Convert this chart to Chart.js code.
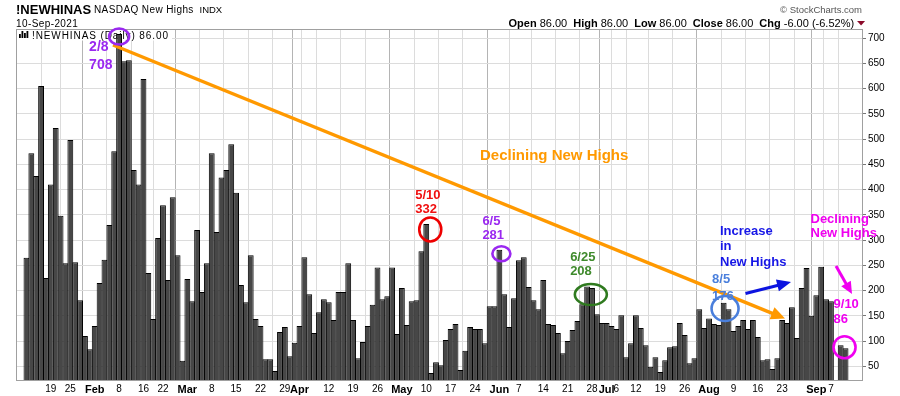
<!DOCTYPE html>
<html>
<head>
<meta charset="utf-8">
<title>!NEWHINAS NASDAQ New Highs</title>
<script src="https://cdn.jsdelivr.net/npm/chart.js@4.4.1/dist/chart.umd.min.js"></script>
<style>
  html, body { margin: 0; padding: 0; background: #fff; }
  canvas { display: block; }
</style>
</head>
<body>
<canvas id="chart" width="900" height="396"></canvas>
<script>
// ---------------------------------------------------------------------------
// Data — trading days per month (2021) and daily NASDAQ new highs
// ---------------------------------------------------------------------------
const janDays = [11, 12, 13, 14, 15, 19, 20, 21, 22, 25, 26, 27, 28, 29];
const febDays = [1, 2, 3, 4, 5, 8, 9, 10, 11, 12, 16, 17, 18, 19, 22, 23, 24, 25, 26];
const marDays = [1, 2, 3, 4, 5, 8, 9, 10, 11, 12, 15, 16, 17, 18, 19, 22, 23, 24, 25, 26, 29, 30, 31];
const aprDays = [1, 5, 6, 7, 8, 9, 12, 13, 14, 15, 16, 19, 20, 21, 22, 23, 26, 27, 28, 29, 30];
const mayDays = [3, 4, 5, 6, 7, 10, 11, 12, 13, 14, 17, 18, 19, 20, 21, 24, 25, 26, 27, 28];
const junDays = [1, 2, 3, 4, 7, 8, 9, 10, 11, 14, 15, 16, 17, 18, 21, 22, 23, 24, 25, 28, 29, 30];
const julDays = [1, 2, 6, 7, 8, 9, 12, 13, 14, 15, 16, 19, 20, 21, 22, 23, 26, 27, 28, 29, 30];
const augDays = [2, 3, 4, 5, 6, 9, 10, 11, 12, 13, 16, 17, 18, 19, 20, 23, 24, 25, 26, 27, 30, 31];
const sepDays = [1, 2, 3, 7, 8, 9, 10];

const janHighs = [265, 472, 427, 605, 225, 410, 522, 348, 254, 498, 256, 181, 110, 84];
const febHighs = [130, 215, 261, 330, 476, 708, 654, 656, 439, 410, 619, 235, 144, 304, 369, 221, 385, 270, 61];
const marHighs = [223, 179, 320, 197, 254, 472, 316, 424, 439, 490, 394, 211, 177, 270, 144, 130, 64, 64, 41, 118, 128, 70, 97];
const aprHighs = [130, 266, 193, 116, 157, 183, 177, 142, 197, 197, 254, 142, 66, 98, 130, 172, 246, 183, 189, 246, 114];
const mayHighs = [205, 132, 179, 181, 278, 332, 37, 58, 52, 102, 124, 134, 43, 81, 128, 124, 124, 96, 169, 169];
const junHighs = [281, 193, 128, 185, 260, 266, 207, 181, 163, 221, 134, 132, 116, 76, 100, 122, 140, 173, 208, 205, 153, 136];
const julHighs = [136, 130, 124, 151, 68, 96, 151, 126, 92, 49, 68, 39, 62, 88, 90, 136, 112, 56, 66, 163, 126];
const augHighs = [145, 134, 132, 176, 163, 120, 130, 142, 124, 142, 108, 62, 64, 45, 66, 142, 136, 167, 106, 205, 245, 150];
const sepHighs = [191, 247, 183, 179, null, 92, 86];   // Sep 8 not drawn in the source

// x-axis ticks (weekly grid + month starts) and their labels
const tickDates = ['Jan 19', 'Jan 25', 'Feb 1', 'Feb 8', 'Feb 16', 'Feb 22', 'Mar 1', 'Mar 8', 'Mar 15',
  'Mar 22', 'Mar 29', 'Apr 1', 'Apr 5', 'Apr 12', 'Apr 19', 'Apr 26', 'May 3', 'May 10', 'May 17',
  'May 24', 'Jun 1', 'Jun 7', 'Jun 14', 'Jun 21', 'Jun 28', 'Jul 1', 'Jul 6', 'Jul 12', 'Jul 19',
  'Jul 26', 'Aug 2', 'Aug 9', 'Aug 16', 'Aug 23', 'Aug 30', 'Sep 1', 'Sep 7'];
const tickText = ['19', '25', 'Feb', '8', '16', '22', 'Mar', '8', '15',
  '22', '29', 'Apr', '', '12', '19', '26', 'May', '10', '17',
  '24', 'Jun', '7', '14', '21', '28', 'Jul', '6', '12', '19',
  '26', 'Aug', '9', '16', '23', '', 'Sep', '7'];
const yTicks = [50, 100, 150, 200, 250, 300, 350, 400, 450, 500, 550, 600, 650, 700];

// ---------------------------------------------------------------------------
// Build the series
// ---------------------------------------------------------------------------
const monthDays = [['Jan', janDays], ['Feb', febDays], ['Mar', marDays], ['Apr', aprDays], ['May', mayDays],
  ['Jun', junDays], ['Jul', julDays], ['Aug', augDays], ['Sep', sepDays]];
const dates = monthDays.flatMap(([m, days]) => days.map(d => `${m} ${d}`));
const newHighs = [].concat(janHighs, febHighs, marHighs, aprHighs, mayHighs, junHighs, julHighs, augHighs, sepHighs);
const points = newHighs.map((v, i) => ({ x: i + 1, y: v }));
const dayIndex = label => dates.indexOf(label) + 1;

const FONT = "'Liberation Sans', Arial, Helvetica, sans-serif";
Chart.defaults.font.family = FONT;
Chart.defaults.color = '#000';

// Callouts anchored on a bar: ring offset/radii and text offset are in pixels
const callouts = [
  { date: 'Feb 8',  value: 708, lines: ['2/8', '708'],  color: '#9a28f0', ringColor: '#9a28f0', ring: [0, 2.5, 10, 8],   text: [-30, 17, 17.5], size: 14 },
  { date: 'May 10', value: 332, lines: ['5/10', '332'], color: '#f01010', ringColor: '#ee0000', ring: [4, 5.5, 11, 12], text: [-11, -25, 14.3], size: 13 },
  { date: 'Jun 1',  value: 281, lines: ['6/5', '281'],  color: '#9a28f0', ringColor: '#9a28f0', ring: [2, 4, 9, 7.5],    text: [-17, -25, 14], size: 13 },
  { date: 'Jun 25', value: 208, lines: ['6/25', '208'], color: '#3f8a2c', ringColor: '#2f7a1f', ring: [3.7, 8, 16, 10.5], text: [-17, -25.6, 14], size: 13 },
  { date: 'Aug 5',  value: 176, lines: ['8/5', '176'],  color: '#4a7fdc', ringColor: '#4a7fdc', ring: [1.4, 5.8, 13.5, 12.5], text: [-11.6, -19.7, 16.7], size: 13 },
  { date: 'Sep 10', value: 86,  lines: ['9/10', '86'],  color: '#f000f0', ringColor: '#f000f0', ring: [-1, -1, 11, 11], text: [-12, -40, 14.5], size: 13 },
];

function drawEllipse(ctx, cx, cy, rx, ry, color, lw) {
  ctx.save();
  ctx.strokeStyle = color;
  ctx.lineWidth = lw;
  ctx.beginPath();
  ctx.ellipse(cx, cy, rx, ry, 0, 0, Math.PI * 2);
  ctx.stroke();
  ctx.restore();
}

function drawArrow(ctx, x1, y1, x2, y2, color, lw, headLen, headW) {
  const a = Math.atan2(y2 - y1, x2 - x1);
  const bx = x2 - headLen * Math.cos(a), by = y2 - headLen * Math.sin(a);
  const px = -Math.sin(a) * headW / 2, py = Math.cos(a) * headW / 2;
  ctx.save();
  ctx.strokeStyle = color;
  ctx.fillStyle = color;
  ctx.lineWidth = lw;
  ctx.lineCap = 'butt';
  ctx.beginPath();
  ctx.moveTo(x1, y1);
  ctx.lineTo(bx + Math.cos(a), by + Math.sin(a));
  ctx.stroke();
  ctx.beginPath();
  ctx.moveTo(x2, y2);
  ctx.lineTo(bx + px, by + py);
  ctx.lineTo(bx - px, by - py);
  ctx.closePath();
  ctx.fill();
  ctx.restore();
}

function drawLines(ctx, lines, x, y, step, font, color) {
  ctx.save();
  ctx.font = font;
  ctx.fillStyle = color;
  ctx.textAlign = 'left';
  ctx.textBaseline = 'alphabetic';
  lines.forEach((t, i) => ctx.fillText(t, x, y + i * step));
  ctx.restore();
}

function setSpacing(ctx, px) {
  if ('letterSpacing' in ctx) ctx.letterSpacing = px + 'px';
}

const overlayPlugin = {
  id: 'overlay',
  beforeDraw(chart) {
    const ctx = chart.ctx;
    ctx.save();
    ctx.fillStyle = '#fff';
    ctx.fillRect(0, 0, chart.width, chart.height);
    ctx.restore();
  },
  beforeDatasetsDraw(chart) {
    // series label box inside the plot (bars are drawn over it)
    const ctx = chart.ctx;
    const area = chart.chartArea;
    ctx.save();
    ctx.fillStyle = '#fff';
    ctx.fillRect(area.left + 1, area.top + 1, 155, 10.5);
    ctx.fillStyle = '#000';
    [[19, 4], [21.5, 7], [24, 5], [26.5, 7]].forEach(([x, h]) => ctx.fillRect(x, 38 - h, 1.8, h));
    ctx.font = `10px ${FONT}`;
    setSpacing(ctx, 0.9);
    ctx.textBaseline = 'alphabetic';
    ctx.fillText(`!NEWHINAS (Daily) ${newHighs[newHighs.length - 1].toFixed(2)}`, 32, 38.5);
    setSpacing(ctx, 0);
    ctx.restore();
  },
  afterDatasetsDraw(chart) {
    const ctx = chart.ctx;
    const a = chart.chartArea;
    ctx.save();
    ctx.strokeStyle = '#a0a0a0';
    ctx.lineWidth = 1;
    ctx.strokeRect(a.left + 0.5, a.top + 0.5, a.right - a.left, a.bottom - a.top);
    ctx.restore();
  },
  afterDraw(chart) {
    const ctx = chart.ctx;
    const xs = chart.scales.x, ys = chart.scales.y;

    // ---- header ----
    ctx.save();
    ctx.textBaseline = 'alphabetic';
    ctx.fillStyle = '#000';
    ctx.font = `bold 13px ${FONT}`;
    ctx.fillText('!NEWHINAS', 16, 13.5);
    ctx.font = `10px ${FONT}`;
    setSpacing(ctx, 0.4);
    ctx.fillText('NASDAQ New Highs', 94, 13);
    ctx.fillText('10-Sep-2021', 16, 26.7);
    setSpacing(ctx, 0);
    ctx.font = `9.5px ${FONT}`;
    ctx.fillText('INDX', 199.5, 13);
    ctx.fillStyle = '#555';
    ctx.textAlign = 'right';
    ctx.fillText('\u00A9 StockCharts.com', 862, 13);
    ctx.textAlign = 'left';

    const close = newHighs[newHighs.length - 1];
    const prev = newHighs[newHighs.length - 2];
    const chg = close - prev;
    const pct = chg / prev * 100;
    const runs = [
      ['Open', true], [` ${close.toFixed(2)}`, false, 6],
      ['High', true], [` ${close.toFixed(2)}`, false, 6],
      ['Low', true], [` ${close.toFixed(2)}`, false, 6],
      ['Close', true], [` ${close.toFixed(2)}`, false, 6],
      ['Chg', true], [` ${chg.toFixed(2)} (${pct.toFixed(2)}%)`, false, 3],
    ];
    let x = 508.5;
    ctx.fillStyle = '#000';
    runs.forEach(([t, bold, gap]) => {
      ctx.font = `${bold ? 'bold ' : ''}11px ${FONT}`;
      ctx.fillText(t, x, 26.7);
      x += ctx.measureText(t).width + (gap || 0);
    });
    ctx.fillStyle = '#8b0a2a';
    ctx.beginPath();
    ctx.moveTo(x, 21);
    ctx.lineTo(x + 8, 21);
    ctx.lineTo(x + 4, 25.5);
    ctx.closePath();
    ctx.fill();
    ctx.restore();

    // ---- trend line ----
    drawArrow(ctx, 113, 45, 785, 318.5, '#ff9900', 3.4, 14, 13);
    ctx.save();
    ctx.font = `bold 15px ${FONT}`;
    ctx.fillStyle = '#ff9900';
    ctx.fillText('Declining New Highs', 480, 159.5);
    ctx.restore();

    // ---- bar callouts ----
    callouts.forEach(c => {
      const px = xs.getPixelForValue(dayIndex(c.date));
      const py = ys.getPixelForValue(c.value);
      const [rdx, rdy, rx, ry] = c.ring;
      drawEllipse(ctx, px + rdx, py + rdy, rx, ry, c.ringColor, 2.6);
      const [tdx, tdy, step] = c.text;
      drawLines(ctx, c.lines, px + tdx, py + tdy, step, `bold ${c.size}px ${FONT}`, c.color);
    });

    // ---- free notes ----
    drawLines(ctx, ['Increase', 'in', 'New Highs'], 720, 234.5, 15.5, `bold 13px ${FONT}`, '#1616e6');
    drawArrow(ctx, 745.5, 293.5, 791, 282, '#0c14e0', 3, 14, 12);
    drawLines(ctx, ['Declining', 'New Highs'], 810.5, 222.5, 14.3, `bold 13px ${FONT}`, '#f000f0');
    drawArrow(ctx, 836, 266, 852, 294, '#f000f0', 3, 12, 11);
  },
};

new Chart(document.getElementById('chart'), {
  type: 'bar',
  data: {
    datasets: [{
      label: '!NEWHINAS',
      data: points,
      backgroundColor: '#474747',
      borderColor: '#000',
      borderWidth: 1,
      borderSkipped: 'bottom',
      barPercentage: 1.2,
      categoryPercentage: 1,
      clip: 0,
    }],
  },
  options: {
    responsive: false,
    animation: false,
    devicePixelRatio: 1,
    layout: { padding: { left: 16, top: 29, right: 0, bottom: 0 } },
    plugins: {
      legend: { display: false },
      tooltip: { enabled: false },
    },
    scales: {
      x: {
        type: 'linear',
        min: 1.2,
        max: 170.03,
        afterBuildTicks: scale => {
          scale.ticks = tickDates.map((d, i) => ({ value: dayIndex(d), major: /^[A-Z]/.test(tickText[i]) }));
        },
        afterFit: scale => { scale.height = 16; },
        grid: {
          color: ctx => (ctx.tick && ctx.tick.major) ? '#b4b4b4' : '#dcdcdc',
          lineWidth: 1,
          drawTicks: false,
        },
        border: { display: true, color: '#a0a0a0' },
        ticks: {
          autoSkip: false,
          maxRotation: 0,
          minRotation: 0,
          padding: 3,
          color: '#000',
          font: ctx => (ctx.tick && ctx.tick.major) ? { size: 11, weight: 'bold' } : { size: 10 },
          callback: (value, index) => tickText[index],
        },
      },
      y: {
        position: 'right',
        min: 23,
        max: 718,
        afterBuildTicks: scale => { scale.ticks = yTicks.map(v => ({ value: v })); },
        afterFit: scale => { scale.width = 38; },
        grid: { color: '#dcdcdc', tickColor: '#777', tickLength: 4 },
        border: { display: true, color: '#a0a0a0' },
        ticks: { padding: 2, color: '#000', font: { size: 10 } },
      },
    },
  },
  plugins: [overlayPlugin],
});
</script>
</body>
</html>
